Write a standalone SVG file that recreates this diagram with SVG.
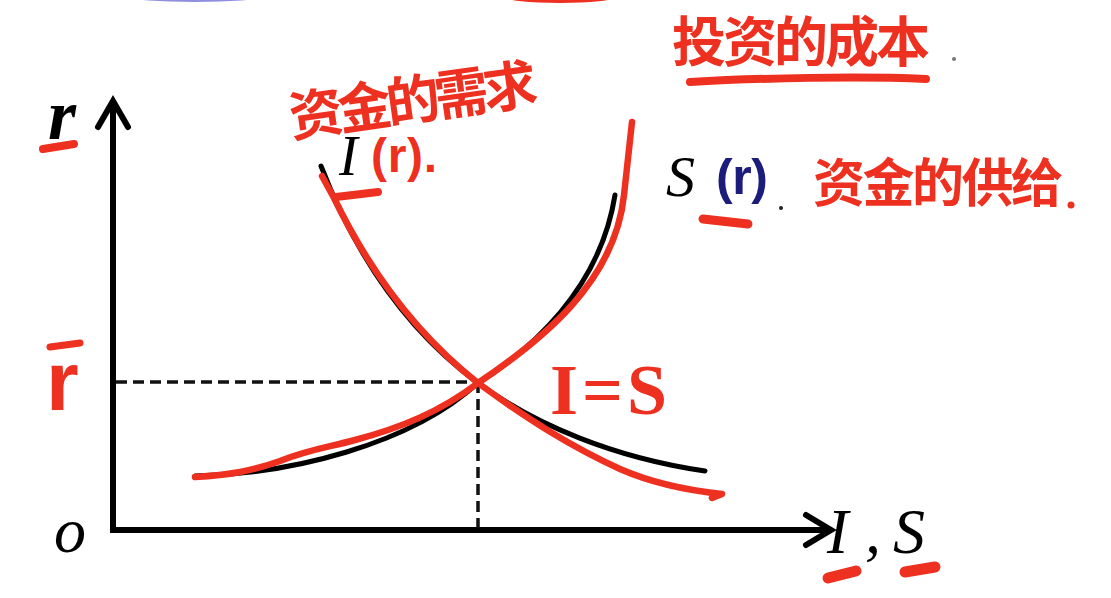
<svg xmlns="http://www.w3.org/2000/svg" width="1111" height="598" viewBox="0 0 1111 598">
<style>
.ax{stroke:#000;stroke-width:6;fill:none;stroke-linecap:square}
.arr{stroke:#000;stroke-width:6;fill:none;stroke-linecap:round;stroke-linejoin:miter}
.dash{stroke:#111;stroke-width:3.5;fill:none;stroke-dasharray:11 6}
.blk{stroke:#000;stroke-width:5;fill:none;stroke-linecap:round}
.red{stroke:#ee3020;stroke-width:6.5;fill:none;stroke-linecap:round;stroke-linejoin:round}
.mark{stroke:#ee3020;fill:none;stroke-linecap:round}
.serif{font-family:"Liberation Serif","DejaVu Serif",serif;font-style:italic;fill:#000}
.hand{font-family:"Noto Sans CJK SC","Noto Sans CJK JP",sans-serif;font-weight:700;fill:#ee3020}
.hlat{font-family:"Liberation Sans","DejaVu Sans",sans-serif;font-weight:700;fill:#ee3020}
</style>
<rect width="1111" height="598" fill="#fff"/>
<g id="edge-fragments">
<ellipse cx="195" cy="-3" rx="65" ry="5" fill="#8f8fe0"/>
<ellipse cx="560" cy="-3" rx="55" ry="6" fill="#ee3020"/>
</g>
<g id="axes">
<line class="ax" x1="113" y1="104" x2="113" y2="530"/>
<line class="ax" x1="113" y1="530" x2="828" y2="530"/>
<polyline class="arr" points="98,127 113,101 128,127"/>
<polyline class="arr" points="806,515 831,530 806,545"/>
</g>
<g id="guides">
<line class="dash" x1="116" y1="382" x2="478" y2="382"/>
<line class="dash" x1="478" y1="382" x2="478" y2="528"/>
</g>
<g id="curves">
<path id="I-black" class="blk" d="M321,166 C358,262 410,333 478,383 C535,425 615,458 705,471"/>
<path id="S-black" class="blk" d="M195,476 C290,474 410,445 478,383 C530,350 600,290 615,195"/>
<path id="I-red" class="red" d="M322,176 L334,198 C366,264 412,331 478,383 C530,421 572,447 620,469 C652,483 684,490 722,494 L712,498"/>
<path id="S-red" class="red" d="M195,477 C230,475 252,471 280,461 C310,449 330,447 355,440 C400,428 440,412 478,383 C542,340 615,282 624,195 C628,160 630,140 632,122"/>
</g>
<g id="axis-labels">
<text class="serif" x="48" y="139" font-size="72" font-weight="700">r</text>
<line class="mark" x1="43" y1="149" x2="74" y2="144" stroke-width="8"/>
<text class="serif" x="54" y="552" font-size="64">o</text>
<text class="serif" x="827" y="553" font-size="64">I</text>
<text class="serif" x="865" y="553" font-size="64">,</text>
<text class="serif" x="893" y="553" font-size="64">S</text>
<line class="mark" x1="828" y1="578" x2="856" y2="571" stroke-width="11"/>
<line class="mark" x1="905" y1="572" x2="935" y2="567" stroke-width="11"/>
<text class="hlat" x="46" y="410" font-size="84">r</text>
<line class="mark" x1="50" y1="347" x2="80" y2="343" stroke-width="7"/>
</g>
<g id="label-I">
<text class="serif" x="339" y="175" font-size="56">I</text>
<text class="hlat" x="371" y="172" font-size="48" textLength="66">(r).</text>
<line class="mark" x1="336" y1="197" x2="378" y2="192" stroke-width="8"/>
</g>
<g id="label-S">
<text class="serif" x="666" y="196" font-size="58">S</text>
<text x="716" y="194" font-size="50" font-family="Liberation Sans, DejaVu Sans, sans-serif" font-weight="700" fill="#1c1c7c" textLength="52">(r)</text>
<circle cx="781" cy="208" r="2" fill="#222"/>
<line class="mark" x1="703" y1="219" x2="748" y2="224" stroke-width="9"/>
</g>
<g id="annotations">
<text class="hand" x="292" y="137" font-size="54" textLength="250" transform="rotate(-8 292 137)">资金的需求</text>
<text class="hand" x="672" y="62" font-size="54" textLength="258">投资的成本</text>
<path class="mark" d="M690,82 C760,78 860,76 926,79" stroke-width="8"/>
<circle cx="954" cy="59" r="2" fill="#777"/>
<text class="hand" x="813" y="202" font-size="52" textLength="250">资金的供给</text>
<circle cx="1071" cy="205" r="3.5" fill="#ee3020"/>
<text x="550" y="414" font-size="72" font-family="Liberation Serif, DejaVu Serif, serif" font-weight="700" fill="#ee3020" letter-spacing="4">I=S</text>
</g>
</svg>
